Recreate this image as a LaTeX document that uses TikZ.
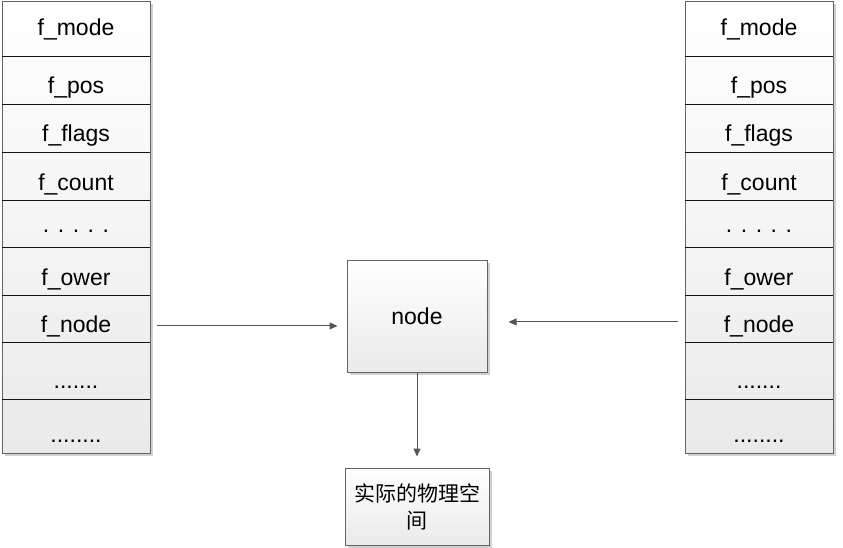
\documentclass[tikz,border=0pt]{standalone}
\usepackage{fontspec}
\setmainfont{Liberation Sans}
\newfontfamily\cjk{Noto Sans CJK SC}
\usepackage{tikz}
\usetikzlibrary{arrows.meta,positioning,shadows,calc}
\definecolor{fileborder}{RGB}{100,100,100}
\definecolor{fileline}{RGB}{20,20,20}
\definecolor{filearrow}{RGB}{85,85,85}
\definecolor{fileshade}{RGB}{234,234,234}
\definecolor{fileshadow}{RGB}{208,208,208}

\tikzset{
  colbox/.style={draw=fileborder, line width=1pt, top color=white, bottom color=fileshade,
    drop shadow={shadow xshift=2.5pt, shadow yshift=-2.5pt, fill=fileshadow, opacity=1},
    inner sep=0pt},
  field/.style={anchor=base, font=\fontsize{23}{27}\selectfont, inner sep=0pt},
  sepline/.style={draw=fileline, line width=0.9pt},
  link/.style={draw=filearrow, line width=1pt, -{Triangle[length=8pt,width=7pt]}},
}

\begin{document}
\begin{tikzpicture}[x=1pt, y=-1pt]
\useasboundingbox (0,0) rectangle (843,548);

% === Left file struct ===
\node[colbox, minimum width=148pt, minimum height=451pt] (lcol) at (76,227.5) {};
\draw[sepline] (2,56) -- (150,56) (2,104) -- (150,104) (2,152) -- (150,152)
  (2,200) -- (150,200) (2,247) -- (150,247) (2,295) -- (150,295)
  (2,342) -- (150,342) (2,399) -- (150,399);

\node[field] (lmode) at (76,36) {f\_mode};
\node[field] (lpos) at (76,94) {f\_pos};
\node[field] (lflags) at (76,142) {f\_flags};
\node[field] (lcount) at (76,191) {f\_count};
\node[field] (ldots) at (76,233) {. . . . .};
\node[field] (lower) at (76,285) {f\_ower};
\node[field] (lnode) at (76,332) {f\_node};
\node[field] (lmore) at (76,388) {.......};
\node[field] (lrest) at (76,442) {........};

% === Right file struct ===
\node[colbox, minimum width=148pt, minimum height=451pt] (rcol) at (759,227.5) {};
\draw[sepline] (685,56) -- (833,56) (685,104) -- (833,104) (685,152) -- (833,152)
  (685,200) -- (833,200) (685,247) -- (833,247) (685,295) -- (833,295)
  (685,342) -- (833,342) (685,399) -- (833,399);

\node[field] (rmode) at (759,36) {f\_mode};
\node[field] (rpos) at (759,94) {f\_pos};
\node[field] (rflags) at (759,142) {f\_flags};
\node[field] (rcount) at (759,191) {f\_count};
\node[field] (rdots) at (759,233) {. . . . .};
\node[field] (rower) at (759,285) {f\_ower};
\node[field] (rnode) at (759,332) {f\_node};
\node[field] (rmore) at (759,388) {.......};
\node[field] (rrest) at (759,442) {........};

% === Shared node and physical space ===
\node[colbox, minimum width=140pt, minimum height=112pt, font=\fontsize{23}{27}\selectfont] (mid) at (417,316) {node};
\node[colbox, minimum width=144pt, minimum height=77pt, align=center,
  font=\cjk\fontsize{21}{27}\selectfont] (phys) at (417,506.5) {实际的物理空\\间};

% Links
\draw[link, shorten <=6pt, shorten >=9pt] (lcol.east |- lnode.center) -- (mid.west |- lnode.center);
\draw[link, shorten <=7pt, shorten >=21pt] ([yshift=4pt]rcol.west |- rnode.center) -- ([yshift=4pt]mid.east |- rnode.center);
\draw[link, shorten >=11pt] (mid.south) -- (phys.north);

\end{tikzpicture}
\end{document}
